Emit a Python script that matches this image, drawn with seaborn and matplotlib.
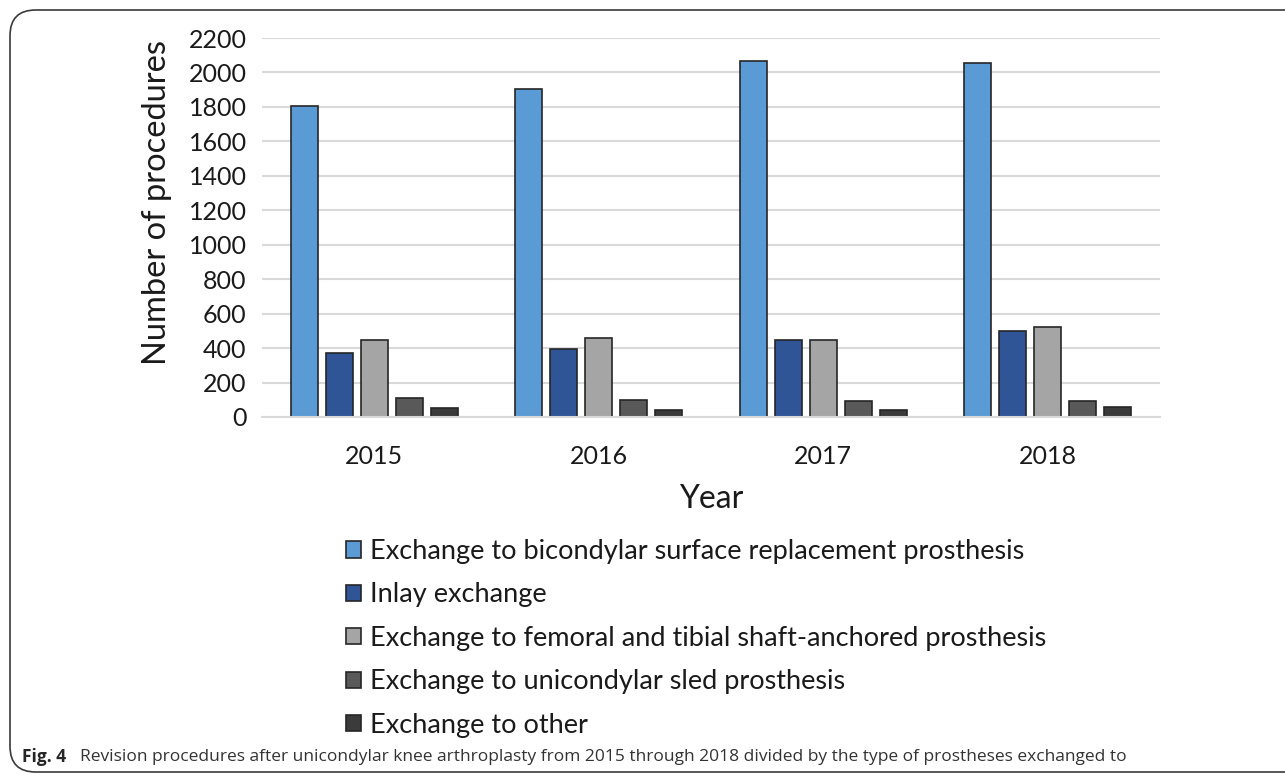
import matplotlib
matplotlib.use("Agg")
import matplotlib.pyplot as plt
from matplotlib.patches import FancyBboxPatch
import seaborn as sns
import pandas as pd

years = ["2015", "2016", "2017", "2018"]
types = [
    "Exchange to bicondylar surface replacement prosthesis",
    "Inlay exchange",
    "Exchange to femoral and tibial shaft-anchored prosthesis",
    "Exchange to unicondylar sled prosthesis",
    "Exchange to other",
]
bicondylar = [1805, 1903, 2068, 2053]
inlay = [373, 392, 447, 499]
shaft = [447, 456, 447, 522]
sled = [112, 98, 94, 94]
other = [52, 39, 39, 60]
colors = ["#5B9BD5", "#2F5597", "#A5A5A5", "#595959", "#3B3B3B"]
yticks = [0, 200, 400, 600, 800, 1000, 1200, 1400, 1600, 1800, 2000, 2200]

series = [bicondylar, inlay, shaft, sled, other]
rows = []
for t, vals in zip(types, series):
    for y, v in zip(years, vals):
        rows.append({"Year": y, "Count": v, "Type": t})
df = pd.DataFrame(rows)

sns.set_theme(style="white")
plt.rcParams["font.family"] = ["Lato", "DejaVu Sans"]

W, H = 1285, 778
fig = plt.figure(figsize=(W / 100, H / 100), dpi=100)
ax = fig.add_axes([262 / W, 1 - 417 / H, (1160 - 262) / W, (417 - 38) / H])

sns.barplot(data=df, x="Year", y="Count", hue="Type", hue_order=types,
            order=years, palette=colors, width=0.78, gap=0.23,
            edgecolor="#262626", linewidth=1.2, ax=ax, saturation=1)

ax.set_ylim(0, 2200)
ax.set_yticks(yticks)
ax.yaxis.grid(True, color="#D9D9D9", linewidth=1.5)
ax.set_axisbelow(True)
for s in ["top", "right", "left"]:
    ax.spines[s].set_visible(False)
ax.spines["bottom"].set_color("#D9D9D9")
ax.spines["bottom"].set_linewidth(1.5)
ax.tick_params(axis="both", length=0, labelsize=18, colors="#1a1a1a")
ax.tick_params(axis="y", pad=11)
ax.tick_params(axis="x", pad=20)
ax.set_ylabel("Number of procedures", fontsize=23.5, color="#1a1a1a")
ax.yaxis.set_label_coords(-0.100, 0.567)
ax.set_xlabel("Year", fontsize=23, color="#1a1a1a", labelpad=12)

sns.move_legend(ax, loc="upper left",
                bbox_to_anchor=(346 / W, 1 - 539 / H),
                bbox_transform=fig.transFigure, frameon=False, title=None,
                fontsize=19.5, handlelength=0.55, handleheight=0.55,
                handletextpad=0.35, labelspacing=0.68, borderpad=0,
                borderaxespad=0)
leg = ax.get_legend()
for t in leg.get_texts():
    t.set_color("#1a1a1a")

# border
box = FancyBboxPatch((10 / W, 6 / H), (W + 20) / W, (H - 16) / H,
                     boxstyle="round,pad=0,rounding_size=0.02",
                     transform=fig.transFigure, fill=False,
                     edgecolor="#3a3a3a", linewidth=1.2, mutation_aspect=W / H)
fig.patches.append(box)

cap_font = ["Open Sans", "DejaVu Sans"]
fig.text(22 / W, 1 - 757 / H, "Fig. 4", fontsize=12.5, fontweight="bold",
         family=cap_font, va="center", ha="left")
fig.text(80 / W, 1 - 757 / H,
         "Revision procedures after unicondylar knee arthroplasty from 2015 through 2018 divided by the type of prostheses exchanged to",
         fontsize=12.5, family=cap_font, va="center", ha="left",
         color="#333333")

fig.savefig("out.png", dpi=100, facecolor="white")
